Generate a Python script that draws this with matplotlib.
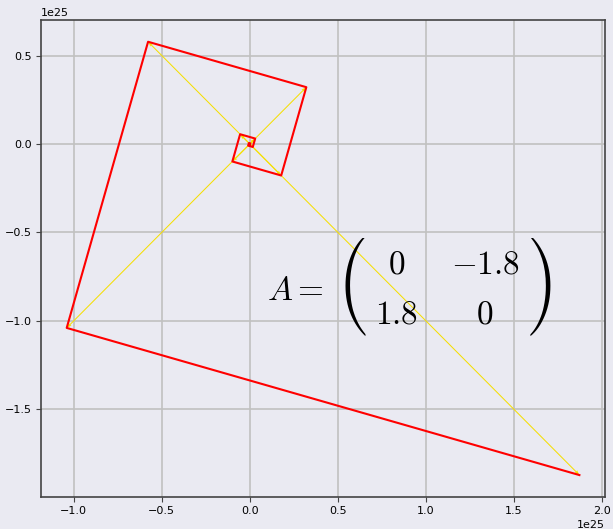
import matplotlib
matplotlib.use("Agg")
import matplotlib.pyplot as plt
from matplotlib.transforms import Bbox
import numpy as np

# Trajectory of x_{n+1} = A x_n, coordinates in units of 1e25
SCALE = 1e25
x_vals = [0.000154, 0.000277, -0.000499, -0.000899, 0.001618, 0.002913,
          -0.005243, -0.009438, 0.01699, 0.03058, -0.05504, -0.09907,
          0.1783, 0.3210, -0.5778, -1.040, 1.872]
y_vals = [-0.000154, 0.000277, 0.000499, -0.000899, -0.001618, 0.002913,
          0.005243, -0.009438, -0.01699, 0.03058, 0.05504, -0.09907,
          -0.1783, 0.3210, 0.5778, -1.040, -1.872]

# matrix entries shown in the annotation
matrix_rows = [["0", "-1.8"], ["1.8", "0"]]

xs = np.array(x_vals) * SCALE
ys = np.array(y_vals) * SCALE

W, H = 613, 529
BG = "#eaeaf2"
plt.rcParams["mathtext.fontset"] = "cm"
fig = plt.figure(figsize=(W / 100, H / 100), dpi=100, facecolor=BG)
ax = fig.add_axes([0.067, 0.061, 0.92, 0.901], facecolor=BG)

# position vectors from the origin
ax.quiver(np.zeros_like(xs), np.zeros_like(ys), xs, ys,
          angles="xy", scale_units="xy", scale=1, color="#f5df00",
          width=0.0018, headwidth=3.5, headlength=5, headaxislength=4.5,
          zorder=1.5)
# consecutive iterates
ax.plot(xs, ys, color="red", lw=1.5, zorder=2)

ax.grid(True, color="#c0c0c0", lw=1.2)
ax.set_axisbelow(True)
for s in ax.spines.values():
    s.set_color("#444444")
    s.set_linewidth(1.2)
ax.tick_params(labelsize=8, length=3.5, color="#444444", pad=3)
ax.xaxis.get_offset_text().set_fontsize(8)
ax.yaxis.get_offset_text().set_fontsize(8)


def fpos(px, py):
    """pixel position (from top-left) -> figure fraction"""
    return px / W, 1 - py / H


FS = 24
# "A =" and the matrix entries
fig.text(*fpos(267, 300), r"$A =$", fontsize=FS, ha="left", va="baseline")
col_x = [397, 485]
row_y = [274, 324]
for r, row in enumerate(matrix_rows):
    for c, val in enumerate(row):
        fig.text(*fpos(col_x[c], row_y[r]), "$%s$" % val, fontsize=FS,
                 ha="center", va="baseline")

# tall parentheses: auto-sized mathtext delimiters, clipped to the delimiter
inner = r"\substack{|\\|\\|}"
PFONT = "stix"
renderer = fig.canvas.get_renderer()
probe = fig.text(0, 0, "$%s$" % inner, fontsize=FS, math_fontfamily=PFONT)
paren_h = 105.0


def make_paren(side, px, py):
    s = (r"$\left(" + inner + r"\right.$") if side == "left" else (r"$\left." + inner + r"\right)$")
    t = fig.text(*fpos(px, py), s, fontsize=FS, ha=side, va="center",
                 math_fontfamily=PFONT)
    fs = FS
    for _ in range(3):
        bb = t.get_window_extent(renderer)
        fs = fs * paren_h / bb.height
        t.set_fontsize(fs)
    probe.set_fontsize(fs)
    bb = t.get_window_extent(renderer)
    pw = bb.width - probe.get_window_extent(renderer).width
    if side == "left":
        clip = Bbox([[bb.x0 - 3, bb.y0 - 3], [bb.x0 + pw - 1, bb.y1 + 3]])
    else:
        clip = Bbox([[bb.x1 - pw + 1, bb.y0 - 3], [bb.x1 + 3, bb.y1 + 3]])
    t.set_clip_box(clip)
    t.set_clip_on(True)
    return t


make_paren("left", 337, 293.5)
make_paren("right", 552, 293.5)
probe.remove()

fig.savefig("out.png", dpi=100, facecolor=BG)
